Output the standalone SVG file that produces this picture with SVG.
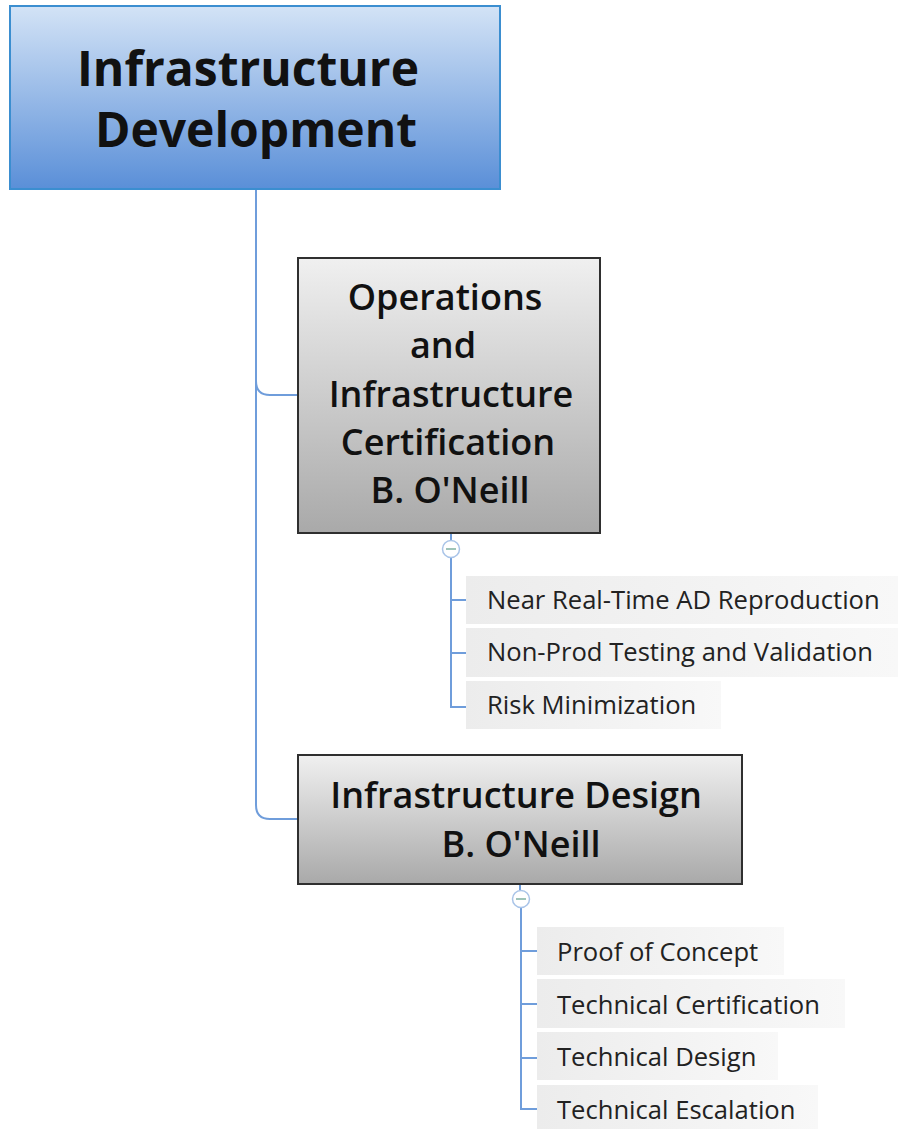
<svg xmlns="http://www.w3.org/2000/svg" width="898" height="1129" viewBox="0 0 898 1129">
<defs>
<linearGradient id="gRoot" x1="0" y1="0" x2="0" y2="1"><stop offset="0" stop-color="#d3e3f6"/><stop offset="1" stop-color="#5a8fd8"/></linearGradient>
<linearGradient id="gMain" x1="0" y1="0" x2="0" y2="1"><stop offset="0" stop-color="#f0f0f0"/><stop offset="1" stop-color="#a9a9a9"/></linearGradient>
<linearGradient id="gSub" x1="0" y1="0" x2="1" y2="0"><stop offset="0" stop-color="#ececec"/><stop offset="1" stop-color="#f8f8f8"/></linearGradient>
</defs>
<style>
.con{fill:none;stroke:#6f9ddb;stroke-width:2}
.root{fill:url(#gRoot);stroke:#3b8ed0;stroke-width:2}
.main{fill:url(#gMain);stroke:#2f2f2f;stroke-width:2}
.sub{fill:url(#gSub)}
.tr{font-family:"Open Sans","DejaVu Sans",sans-serif;font-weight:700;font-size:48px;fill:#111;text-anchor:middle}
.tm{font-family:"Open Sans","DejaVu Sans",sans-serif;font-weight:600;font-size:36px;fill:#111;text-anchor:middle}
.ts{font-family:"Open Sans","DejaVu Sans",sans-serif;font-size:25.6px;fill:#222}
.tog{fill:#fff;stroke:#a9c4e8;stroke-width:1.5}
.togm{stroke:#7fb0a0;stroke-width:1.5}
</style>
<g id="connectors">
<path class="con" d="M256,189 V381 Q256,395 270,395 H298"/>
<path class="con" d="M256,381 V805 Q256,819 270,819 H298"/>
<path class="con" d="M451,533 V540"/>
<path class="con" d="M451,558 V707 H466 M451,600 H466 M451,653 H466"/>
<path class="con" d="M520,884 V890"/>
<path class="con" d="M521,908 V1109 H537 M521,951 H537 M521,1004 H537 M521,1058 H537"/>
<g id="toggle1"><circle class="tog" cx="451" cy="549" r="8.5"/><path class="togm" d="M446,549 H456"/></g>
<g id="toggle2"><circle class="tog" cx="521" cy="899" r="8.5"/><path class="togm" d="M516,899 H526"/></g>
</g>
<g id="root">
<rect class="root" x="10" y="6" width="490" height="183"/>
<text class="tr" x="248" y="86">Infrastructure</text>
<text class="tr" x="256" y="147">Development</text>
</g>
<g id="ops">
<rect class="main" x="298" y="258" width="302" height="275"/>
<text class="tm" x="445" y="310">Operations</text>
<text class="tm" x="443" y="358">and</text>
<text class="tm" x="451" y="407">Infrastructure</text>
<text class="tm" x="448" y="455">Certification</text>
<text class="tm" x="450" y="503">B. O'Neill</text>
</g>
<g id="ops-c1"><rect class="sub" x="466" y="576" width="432" height="48"/><text class="ts" x="487" y="609">Near Real-Time AD Reproduction</text></g>
<g id="ops-c2"><rect class="sub" x="466" y="628" width="432" height="49"/><text class="ts" x="487" y="661">Non-Prod Testing and Validation</text></g>
<g id="ops-c3"><rect class="sub" x="466" y="681" width="255" height="48"/><text class="ts" x="487" y="714">Risk Minimization</text></g>
<g id="design">
<rect class="main" x="298" y="755" width="444" height="129"/>
<text class="tm" x="516" y="808">Infrastructure Design</text>
<text class="tm" x="521" y="857">B. O'Neill</text>
</g>
<g id="des-c1"><rect class="sub" x="537" y="927" width="247" height="48"/><text class="ts" x="557" y="961">Proof of Concept</text></g>
<g id="des-c2"><rect class="sub" x="537" y="979" width="308" height="49"/><text class="ts" x="557" y="1014">Technical Certification</text></g>
<g id="des-c3"><rect class="sub" x="537" y="1032" width="241" height="48"/><text class="ts" x="557" y="1066">Technical Design</text></g>
<g id="des-c4"><rect class="sub" x="537" y="1085" width="281" height="44"/><text class="ts" x="557" y="1119">Technical Escalation</text></g>
</svg>
